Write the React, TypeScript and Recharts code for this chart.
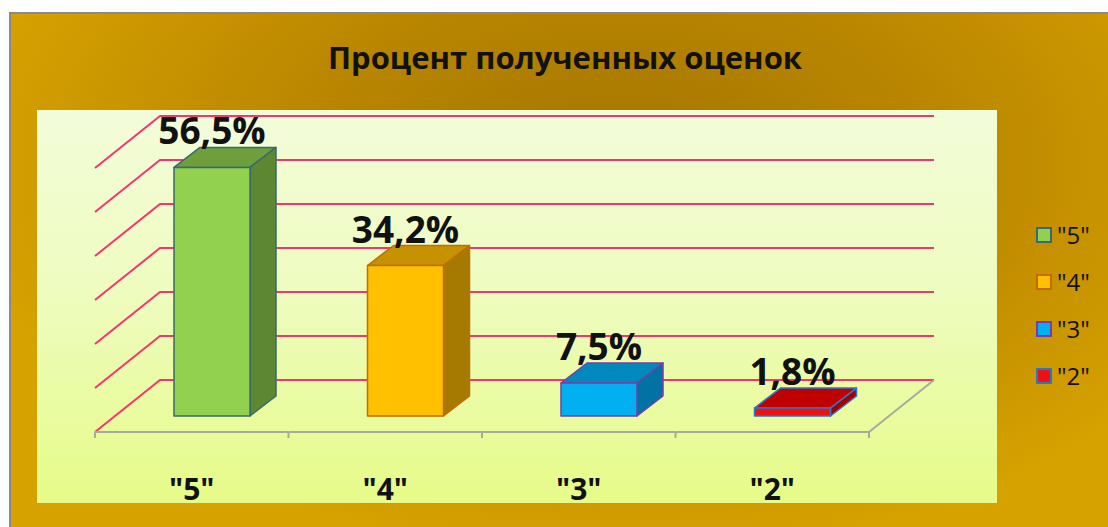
import { Bar, BarChart, CartesianGrid, LabelList, XAxis, YAxis } from "recharts"

const CATEGORIES = ['"5"', '"4"', '"3"', '"2"']
const PERCENTS = [56.5, 34.2, 7.5, 1.8]
const Y_TICKS = [0, 10, 20, 30, 40, 50, 60]

const FRONT = ["#92d050", "#ffc000", "#00b0f0", "#ee1111"]
const TOP = ["#6f9f3d", "#c69200", "#0089bd", "#c00000"]
const SIDE = ["#5d8733", "#a67a00", "#0072a3", "#a50000"]
const EDGE = ["#3a6a6c", "#c46c00", "#7a3ca8", "#2a78c8"]

const W = 1108
const H = 527
const FONT = '"Open Sans", "Liberation Sans", sans-serif'

// plot area = the plane the bar fronts stand on
const MARGIN = { top: 152, right: 219, bottom: 81, left: 115 }
const X_AXIS_H = 30
const BASE_Y = H - MARGIN.bottom - X_AXIS_H
const BAND = (W - MARGIN.left - MARGIN.right) / CATEGORIES.length

const DEPTH_X = 26
const DEPTH_Y = -20
const WALL_X = 45
const WALL_Y = -36
const FRONT_X = -20
const FRONT_Y = 16

const data = CATEGORIES.map((name, i) => ({ name, value: PERCENTS[i] }))

function GridLine(props: any) {
  const { x1, x2, y1 } = props
  const by = y1 + WALL_Y
  return (
    <path
      d={`M${x1 + FRONT_X},${y1 + FRONT_Y} L${x1 + WALL_X},${by} L${x2 + WALL_X},${by}`}
      stroke="#f8346f"
      strokeWidth={2}
      fill="none"
    />
  )
}

function FloorTick(props: any) {
  const { payload, index } = props
  const cx = payload.coordinate + FRONT_X
  const fy = BASE_Y + FRONT_Y
  const left = cx - BAND / 2
  const right = cx + BAND / 2
  const last = index === CATEGORIES.length - 1
  return (
    <g>
      <g stroke="#a9a9a0" strokeWidth={2}>
        <line x1={left} y1={fy} x2={right} y2={fy} />
        <line x1={left} y1={fy} x2={left} y2={fy + 6} />
        {last && <line x1={right} y1={fy} x2={right} y2={fy + 6} />}
        {last && (
          <line
            x1={right}
            y1={fy}
            x2={right + WALL_X - FRONT_X}
            y2={fy + WALL_Y - FRONT_Y}
          />
        )}
      </g>
      <text
        x={cx}
        y={500}
        textAnchor="middle"
        fontFamily={FONT}
        fontWeight={700}
        fontSize={30}
        fill="#111"
      >
        {payload.value}
      </text>
    </g>
  )
}

function Bar3D(props: any) {
  const { x, y, width, height, index } = props
  const dx = DEPTH_X
  const dy = DEPTH_Y
  return (
    <g stroke={EDGE[index]} strokeWidth={1.5} strokeLinejoin="round">
      <path
        d={`M${x},${y} L${x + dx},${y + dy} L${x + width + dx},${y + dy} L${x + width},${y} Z`}
        fill={TOP[index]}
      />
      <path
        d={`M${x + width},${y} L${x + width + dx},${y + dy} L${x + width + dx},${y + height + dy} L${x + width},${y + height} Z`}
        fill={SIDE[index]}
      />
      <rect x={x} y={y} width={width} height={height} fill={FRONT[index]} />
    </g>
  )
}

function ValueLabel(props: any) {
  const { x, y, width, value } = props
  return (
    <text
      x={x + width / 2}
      y={y + DEPTH_Y - 3}
      textAnchor="middle"
      fontFamily={FONT}
      fontWeight={700}
      fontSize={37}
      fill="#111"
    >
      {String(value).replace(".", ",") + "%"}
    </text>
  )
}

export default function App() {
  return (
    <div
      style={{
        position: "absolute",
        left: 0,
        top: 0,
        width: W,
        height: H,
        background: "#fff",
        overflow: "hidden",
      }}
    >
      <div
        style={{
          position: "absolute",
          left: 9,
          top: 12,
          width: W,
          height: H,
          borderLeft: "2px solid #8a8a8a",
          borderTop: "2px solid #8a8a8a",
          background:
            "radial-gradient(ellipse 60% 75% at 55% 28%, #a47600 0%, #bb8700 50%, #d6a200 100%)",
        }}
      />
      <div
        style={{
          position: "absolute",
          left: 37,
          top: 110,
          width: 960,
          height: 393,
          background: "linear-gradient(180deg, #f3fcda 0%, #eefcc0 45%, #e6fb88 100%)",
        }}
      />
      <div
        style={{
          position: "absolute",
          left: 0,
          top: 36,
          width: 1130,
          textAlign: "center",
          fontFamily: FONT,
          fontWeight: 700,
          fontSize: 31,
          color: "#111",
        }}
      >
        Процент полученных оценок
      </div>
      <div style={{ position: "absolute", left: 0, top: 0 }}>
        <BarChart width={W} height={H} data={data} margin={MARGIN}>
          <CartesianGrid vertical={false} horizontal={GridLine} />
          <XAxis
            dataKey="name"
            height={X_AXIS_H}
            axisLine={false}
            tickLine={false}
            tick={FloorTick}
            interval={0}
          />
          <YAxis hide domain={[0, 60]} ticks={Y_TICKS} />
          <Bar dataKey="value" barSize={76} shape={Bar3D} isAnimationActive={false}>
            <LabelList dataKey="value" content={ValueLabel} />
          </Bar>
        </BarChart>
      </div>
      <div style={{ position: "absolute", left: 1036, top: 211 }}>
        {CATEGORIES.map((name, i) => (
          <div
            key={name}
            style={{ display: "flex", alignItems: "center", height: 47 }}
          >
            <span
              style={{
                width: 12,
                height: 12,
                border: `2.5px solid ${EDGE[i]}`,
                background: FRONT[i],
                marginRight: 5,
              }}
            />
            <span style={{ fontFamily: FONT, fontSize: 24, color: "#111" }}>{name}</span>
          </div>
        ))}
      </div>
    </div>
  )
}
